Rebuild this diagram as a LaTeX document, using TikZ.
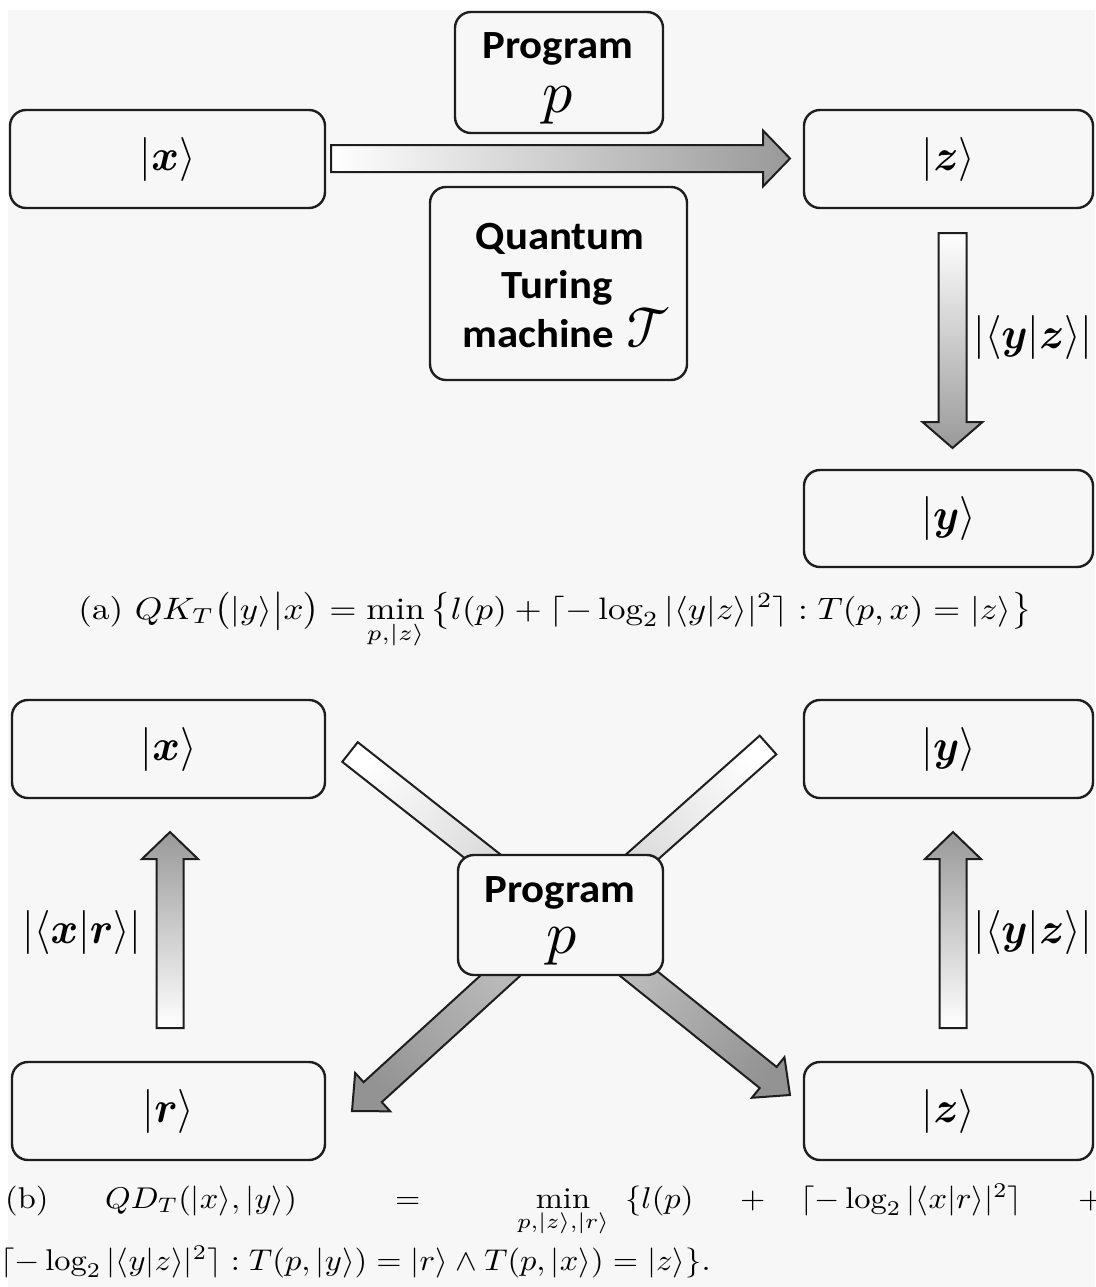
\documentclass[tikz,border=0pt]{standalone}
\usepackage{amsmath,bm}
\usepackage{graphicx}
\usepackage{fontspec}
\newfontfamily\boxfont{Carlito}[FakeStretch=1.07]
\newfontfamily\lmmfont{latinmodern-math.otf}
\usetikzlibrary{calc}
\definecolor{bgc}{HTML}{F7F7F7}
\definecolor{edge}{HTML}{1E1E1E}
\newcommand\lblscale[1]{\scalebox{4.2}[4.4]{#1}}
\newcommand\capscale[1]{\scalebox{3.25}[3]{#1}}
\newcommand\scrp{\scalebox{6}{$p$}}
\tikzset{
  box/.style={draw=edge, line width=2.4pt, rounded corners=16pt, fill=bgc, inner sep=0pt},
  arrowline/.style={draw=edge, line width=2pt, line join=miter},
  lbl/.style={inner sep=0pt},
  boldtxt/.style={inner sep=0pt, font=\boxfont\bfseries\fontsize{40}{48}\selectfont},
  scr/.style={inner sep=0pt},
  captxt/.style={inner sep=0pt},
}
% #1 fill options, #2 tail, #3 tip, #4 shaft half width, #5 head half width, #6 head length
\newcommand\blockarrow[6]{%
  \path (#2); \pgfgetlastxy{\bax}{\bay}%
  \path (#3); \pgfgetlastxy{\bbx}{\bby}%
  \pgfmathsetmacro\bsang{atan2((\bby)-(\bay),(\bbx)-(\bax))-90}%
  \coordinate (hb) at ($(#3)!#6!(#2)$);
  \draw[arrowline, #1, shading angle=\bsang]
    ($(#2)!#4!90:(#3)$) -- ($(hb)!#4!90:(#3)$) -- ($(hb)!#5!90:(#3)$) -- (#3)
    -- ($(hb)!#5!-90:(#3)$) -- ($(hb)!#4!-90:(#3)$) -- ($(#2)!#4!-90:(#3)$) -- cycle;
}
% #1 fill options, #2 tail, #3 end, #4 half width
\newcommand\blockstem[4]{%
  \path (#2); \pgfgetlastxy{\bax}{\bay}%
  \path (#3); \pgfgetlastxy{\bbx}{\bby}%
  \pgfmathsetmacro\bsang{atan2((\bby)-(\bay),(\bbx)-(\bax))-90}%
  \draw[arrowline, #1, shading angle=\bsang]
    ($(#2)!#4!90:(#3)$) -- ($(#3)!#4!-90:(#2)$) -- ($(#3)!#4!90:(#2)$) -- ($(#2)!#4!-90:(#3)$) -- cycle;
}
\begin{document}
\begin{tikzpicture}[x=1pt,y=-1pt]
\useasboundingbox (0,0) rectangle (1095,1287);
\fill[white] (0,0) rectangle (1095,1287);
\fill[bgc] (8,10) rectangle (1095,1287);

% ---------------- part (a) ----------------
\coordinate (a1s) at (331,158.5);
\coordinate (a1e) at (790,158.5);
\blockarrow{top color=gray!80, bottom color=white}{a1s}{a1e}{13.5pt}{28pt}{27pt}
\coordinate (a2s) at (952.5,233);
\coordinate (a2e) at (952.5,448);
\blockarrow{top color=gray!80, bottom color=white}{a2s}{a2e}{14pt}{30pt}{26pt}

\node[box, minimum width=315pt, minimum height=98pt] (xA) at (167.5,159) {\lblscale{$|\bm{x}\rangle$}};
\node[box, minimum width=208pt, minimum height=121pt] (progA) at (559,72.5) {};
\node[boldtxt, anchor=base] (progAt) at (558,59) {Program};
\node[scr, anchor=base] (progAp) at (558,113) {\scrp};
\node[box, minimum width=289pt, minimum height=98pt] (zA) at (948.5,159) {\lblscale{$|\bm{z}\rangle$}};
\node[box, minimum width=257pt, minimum height=193pt] (qtm) at (558.5,283.5) {};
\node[boldtxt, anchor=base] (q1) at (560,249) {Quantum};
\node[boldtxt, anchor=base] (q2) at (557,298) {Turing};
\node[boldtxt, anchor=base] (q3) at (567,347) {machine\hspace{12pt}{\lmmfont\fontsize{58}{64}\selectfont 𝒯}};
\node[box, minimum width=289pt, minimum height=97pt] (yA) at (948.5,518.5) {\lblscale{$|\bm{y}\rangle$}};
\node[lbl] (la1) at (1033,337) {\lblscale{$|\langle\bm{y}|\bm{z}\rangle|$}};

\node[captxt, anchor=base] (capa) at (555,619)
  {\scalebox{3.5}[3.1]{(a) $QK_T\big(|y\rangle\big|x\big)=\min\limits_{p,|z\rangle}\big\{l(p)+\lceil-\log_2|\langle y|z\rangle|^2\rceil : T(p,x)=|z\rangle\big\}$}};

% ---------------- part (b) ----------------
\coordinate (s1s) at (350,752);
\coordinate (s1e) at (500,870);
\blockstem{top color=gray!28, bottom color=white}{s1s}{s1e}{12.5pt}
\coordinate (s2s) at (768,745);
\coordinate (s2e) at (625,872);
\blockstem{top color=gray!28, bottom color=white}{s2s}{s2e}{12.5pt}
\coordinate (d1s) at (512,965);
\coordinate (d1e) at (352,1111);
\blockarrow{top color=gray!85, bottom color=gray!55}{d1s}{d1e}{13.5pt}{26pt}{28pt}
\coordinate (d2s) at (628,965);
\coordinate (d2e) at (790,1095);
\blockarrow{top color=gray!85, bottom color=gray!55}{d2s}{d2e}{13.5pt}{26pt}{28pt}
\coordinate (u1s) at (170,1028);
\coordinate (u1e) at (170,832);
\blockarrow{top color=gray!80, bottom color=white}{u1s}{u1e}{13.5pt}{28pt}{27pt}
\coordinate (u2s) at (953,1028);
\coordinate (u2e) at (953,832);
\blockarrow{top color=gray!80, bottom color=white}{u2s}{u2e}{13.5pt}{28pt}{27pt}

\node[box, minimum width=313pt, minimum height=98pt] (xB) at (168.5,749) {\lblscale{$|\bm{x}\rangle$}};
\node[box, minimum width=289pt, minimum height=98pt] (yB) at (948.5,749) {\lblscale{$|\bm{y}\rangle$}};
\node[box, minimum width=313pt, minimum height=98pt] (rB) at (168.5,1111) {\lblscale{$|\bm{r}\rangle$}};
\node[box, minimum width=289pt, minimum height=98pt] (zB) at (948.5,1111) {\lblscale{$|\bm{z}\rangle$}};
\node[box, minimum width=205pt, minimum height=120pt] (progB) at (560.5,915) {};
\node[boldtxt, anchor=base] (progBt) at (560,902) {Program};
\node[scr, anchor=base] (progBp) at (562,953) {\scrp};
\node[lbl] (lb1) at (82,932) {\lblscale{$|\langle\bm{x}|\bm{r}\rangle|$}};
\node[lbl] (lb2) at (1033,932) {\lblscale{$|\langle\bm{y}|\bm{z}\rangle|$}};

\node[captxt, anchor=base west] (cb1) at (5,1208) {\capscale{(b)}};
\node[captxt, anchor=base west] (cb2) at (105,1208) {\capscale{$QD_T(|x\rangle,|y\rangle)$}};
\node[captxt, anchor=base west] (cb3) at (395,1208) {\capscale{$=$}};
\node[captxt, anchor=base] (cb4) at (563,1208) {\capscale{$\min\limits_{p,|z\rangle,|r\rangle}$}};
\node[captxt, anchor=base west] (cb5) at (625,1208) {\capscale{$\{l(p)$}};
\node[captxt, anchor=base west] (cb6) at (740,1208) {\capscale{$+$}};
\node[captxt, anchor=base west] (cb7) at (800,1208) {\capscale{$\lceil-\log_2|\langle x|r\rangle|^2\rceil$}};
\node[captxt, anchor=base west] (cb8) at (1078,1208) {\capscale{$+$}};
\node[captxt, anchor=base west] (cb9) at (0,1270)
  {\capscale{$\lceil-\log_2|\langle y|z\rangle|^2\rceil : T(p,|y\rangle)=|r\rangle\wedge T(p,|x\rangle)=|z\rangle\}.$}};
\end{tikzpicture}
\end{document}
